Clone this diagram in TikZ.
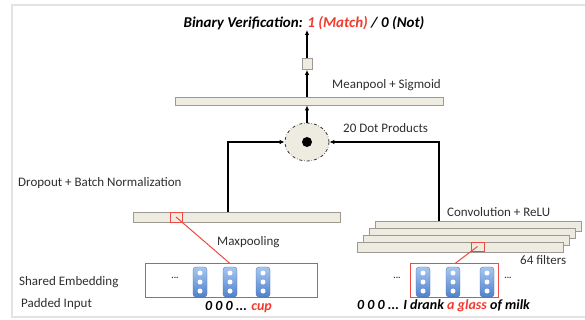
\documentclass[tikz,border=0pt]{standalone}
\usepackage{fontspec}
\setmainfont{Carlito}
\usetikzlibrary{arrows.meta,shapes.geometric}
\definecolor{barfill}{HTML}{EEECE1}
\definecolor{barline}{HTML}{9C9A92}
\definecolor{redbox}{HTML}{EE4A42}
\definecolor{redtxt}{HTML}{F23B2E}
\definecolor{capdark}{HTML}{4F82CC}
\definecolor{caplight}{HTML}{A8C6F0}
\definecolor{framecol}{HTML}{E3E3E3}
\definecolor{txt}{HTML}{2E2E2E}
\tikzset{
  bar/.style={draw=barline, fill=barfill, line width=0.7pt, inner sep=0pt, minimum height=10pt},
  redsq/.style={draw=redbox, line width=1.3pt, inner sep=0pt},
  redline/.style={draw=redbox, line width=1pt},
  arr/.style={draw=black, line width=1.4pt, -{Latex[length=5pt,width=4.5pt]}},
  lab/.style={text=txt, font=\fontsize{13}{15}\selectfont, inner sep=0pt, anchor=west},
  bi/.style={font=\fontsize{15}{17}\selectfont\bfseries\itshape, inner sep=0pt},
  bis/.style={font=\fontsize{14}{16}\selectfont\bfseries\itshape, inner sep=0pt},
  capsule/.style={rounded corners=3pt, top color=caplight, bottom color=capdark, draw=capdark!85!black, line width=0.3pt, minimum width=14pt, minimum height=30pt, inner sep=0pt},
  wdot/.style={circle, fill=white, inner sep=0pt, minimum size=5pt},
  ddd/.style={font=\fontsize{9}{10}\selectfont\bfseries, inner sep=0pt, text=txt}
}
\begin{document}
\begin{tikzpicture}[x=1pt,y=-1pt]
\useasboundingbox (0,0) rectangle (585,320);
\draw[framecol, line width=1.5pt] (590,5) -- (12,5) -- (12,317) -- (590,317);

% title
\node[bi] (title) at (304,23) {Binary Verification: \textcolor{redtxt}{1 (Match)} / 0 (Not)};
% small output box
\node[draw=barline, fill=barfill, line width=0.7pt, minimum width=10pt, minimum height=11pt, inner sep=0pt] (sbox) at (307,64) {};
% meanpool bar
\node[bar, minimum width=268pt, minimum height=8pt] (mean) at (309,101) {};
\node[lab] (meanlab) at (332,85) {Meanpool + Sigmoid};
% ellipse
\node[ellipse, draw=black!80, dash dot, line width=0.8pt, fill=barfill, minimum width=44pt, minimum height=38pt, inner sep=0pt] (ell) at (307,142) {};
\node[circle, fill=black, minimum size=10pt, inner sep=0pt] (dot) at (ell.center) {};
\node[lab] (dotlab) at (343,128) {20 Dot Products};

\draw[arr] (sbox.north) -- (sbox.north |- title.south);
\draw[arr] (mean.north -| sbox.south) -- (sbox.south);
\draw[arr] (ell.north) -- (ell.north |- mean.south);

% left branch
\node[bar, minimum width=207pt] (lbar) at (236.5,217) {};
\node[lab] (droplab) at (18,183) {Dropout + Batch Normalization};
\node[redsq, line width=1pt, minimum width=12pt, minimum height=10pt] (lsq) at (176,217) {};
\coordinate (lx) at (228,0);
\draw[arr] (lbar.north -| lx) |- (ell.west);
\node[lab] (maxlab) at (217,242) {Maxpooling};
\node[inner sep=0pt, minimum width=172pt, minimum height=34pt] (lbox) at (231.5,280.5) {};
\draw[redbox, line width=1.3pt] (lbox.north west) rectangle (lbox.south east);
\node[ddd] (ld) at (175,278) {...};
\foreach \i/\x in {1/200,2/230,3/263}{
  \node[capsule] (lc\i) at (\x,282) {};
  \foreach \dy in {-9,0,9} \node[wdot] at ([yshift=\dy pt]lc\i.center) {};
}
\node[lab] (shared) at (19,282) {Shared Embedding};
\node[lab] (padded) at (21,304) {Padded Input};
\node[bis] (lin) at (238.5,307) {0 0 0 ... \textcolor{redtxt}{cup}};

% right branch: conv stack
\node[bar, minimum width=206pt] (c1) at (478,226) {};
\node[bar, minimum width=206pt] (c2) at (472,233) {};
\node[bar, minimum width=206pt] (c3) at (466,240) {};
\node[bar, minimum width=206pt] (c4) at (460,247) {};
\node[lab] (convlab) at (447,212) {Convolution + ReLU};
\node[lab] (filt) at (520,260) {64 filters};
\coordinate (rx) at (439,0);
\draw[arr] (c1.north -| rx) |- (ell.east);
\node[redsq, line width=1pt, minimum width=13pt, minimum height=9pt] (rsq) at (477.5,246.5) {};
\node[redsq, minimum width=88pt, minimum height=34pt] (rbox) at (454.5,280.5) {};
\node[ddd] (rd1) at (397,278) {...};
\node[ddd] (rd2) at (508,278) {...};
\foreach \i/\x in {1/423,2/453,3/487}{
  \node[capsule] (rc\i) at (\x,282) {};
  \foreach \dy in {-9,0,9} \node[wdot] at ([yshift=\dy pt]rc\i.center) {};
}
\node[bis] (rin) at (443.5,306) {0 0 0 ... I drank \textcolor{redtxt}{a glass} of milk};

\coordinate (lhit) at (230,263.5);
\coordinate (rhit) at (455,263.5);
\draw[redline] (lsq.center) -- (lhit);
\draw[redline] (rsq.center) -- (rhit);
\end{tikzpicture}
\end{document}
